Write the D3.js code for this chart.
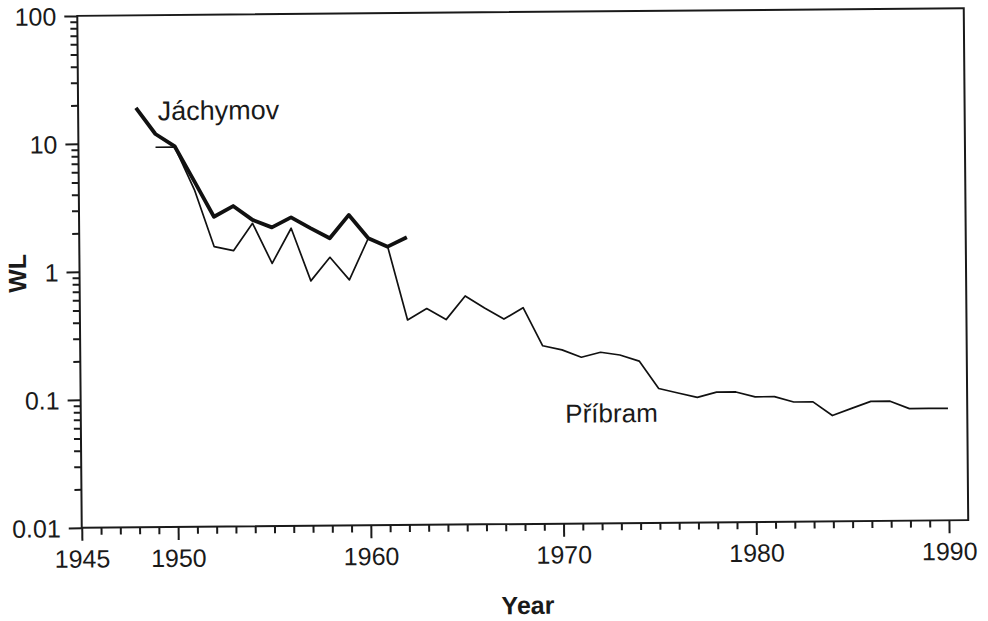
<!DOCTYPE html>
<html>
<head>
<meta charset="utf-8">
<script src="https://cdn.jsdelivr.net/npm/d3@7"></script>
<style>
  body { margin: 0; background: #fff; }
  svg text { font-family: "Liberation Sans", Arial, Helvetica, sans-serif; fill: #1a1a1a; }
</style>
</head>
<body>
<div id="chart"></div>
<script>
// Jachymov mine (thick line)
var jachYears = [1948, 1949, 1950, 1951, 1952, 1953, 1954, 1955, 1956, 1957, 1958, 1959, 1960, 1961, 1962];
var jachWL    = [18.9, 11.8, 9.4, 5.0, 2.64, 3.19, 2.48, 2.16, 2.58, 2.12, 1.76, 2.67, 1.75, 1.50, 1.77];

// Pribram mine (thin line)
var pribYears = [1949, 1950, 1951, 1952, 1953, 1954, 1955, 1956, 1957, 1958, 1959, 1960,
                 1961, 1962, 1963, 1964, 1965, 1966, 1967, 1968, 1969, 1970, 1971, 1972,
                 1973, 1974, 1975, 1976, 1977, 1978, 1979, 1980, 1981, 1982, 1983, 1984,
                 1985, 1986, 1987, 1988, 1989, 1990];
var pribWL    = [9.3, 9.3, 4.3, 1.54, 1.43, 2.33, 1.13, 2.12, 0.82, 1.25, 0.83, 1.75,
                 1.50, 0.40, 0.49, 0.40, 0.61, 0.49, 0.40, 0.49, 0.246, 0.228, 0.199, 0.217,
                 0.206, 0.184, 0.112, 0.103, 0.095, 0.104, 0.104, 0.095, 0.095, 0.086, 0.086, 0.067,
                 0.076, 0.086, 0.086, 0.075, 0.075, 0.075];

var yMajor  = [0.01, 0.1, 1, 10, 100];
var yLabels = ["0.01", "0.1", "1", "10", "100"];
var xMajor  = [1945, 1950, 1960, 1970, 1980, 1990];

var width = 988, height = 621;
var plotLeft = 79.5, plotRight = 966, plotTop = 12, plotBottom = 524;

var svg = d3.select("#chart").append("svg")
  .attr("width", width)
  .attr("height", height);

svg.append("rect")
  .attr("width", width)
  .attr("height", height)
  .attr("fill", "#fff");

// the scanned figure sits slightly tilted
var g = svg.append("g")
  .attr("transform", "rotate(-0.5 522.6 268)");

var x = d3.scaleLinear().domain([1945, 1991]).range([plotLeft, plotRight]);
var y = d3.scaleLog().domain([0.01, 100]).range([plotBottom, plotTop]);

// minor ticks
var yMinor = y.ticks().filter(function(d){ return yMajor.indexOf(d) < 0; });
var xMinor = d3.range(1946, 1990).filter(function(d){ return xMajor.indexOf(d) < 0; });

g.append("g")
  .attr("transform", "translate(" + plotLeft + ",0)")
  .call(d3.axisLeft(y).tickValues(yMinor).tickSize(7).tickFormat(""))
  .call(function(a){ a.select(".domain").remove(); });

g.append("g")
  .attr("transform", "translate(" + plotLeft + ",0)")
  .call(d3.axisLeft(y).tickValues(yMajor).tickSize(13).tickPadding(8)
    .tickFormat(function(d, i){ return yLabels[i]; }))
  .call(function(a){
    a.select(".domain").remove();
    a.selectAll("text").attr("font-size", 25).attr("dy", "0.35em");
  });

g.append("g")
  .attr("transform", "translate(0," + plotBottom + ")")
  .call(d3.axisBottom(x).tickValues(xMinor).tickSize(7).tickFormat(""))
  .call(function(a){ a.select(".domain").remove(); });

g.append("g")
  .attr("transform", "translate(0," + plotBottom + ")")
  .call(d3.axisBottom(x).tickValues(xMajor).tickSize(13).tickPadding(9).tickFormat(d3.format("d")))
  .call(function(a){
    a.select(".domain").remove();
    a.selectAll("text").attr("font-size", 25);
  });

g.selectAll(".tick line")
  .attr("stroke", "#1a1a1a")
  .attr("stroke-width", 2);

// frame
g.append("rect")
  .attr("x", plotLeft)
  .attr("y", plotTop)
  .attr("width", plotRight - plotLeft)
  .attr("height", plotBottom - plotTop)
  .attr("fill", "none")
  .attr("stroke", "#1a1a1a")
  .attr("stroke-width", 2);

var line = d3.line()
  .x(function(d){ return x(d[0]); })
  .y(function(d){ return y(d[1]); });

g.append("path")
  .datum(d3.zip(pribYears, pribWL))
  .attr("d", line)
  .attr("fill", "none")
  .attr("stroke", "#111")
  .attr("stroke-width", 1.7)
  .attr("stroke-linejoin", "round");

g.append("path")
  .datum(d3.zip(jachYears, jachWL))
  .attr("d", line)
  .attr("fill", "none")
  .attr("stroke", "#111")
  .attr("stroke-width", 3.8)
  .attr("stroke-linejoin", "round");

// series labels
g.append("text")
  .attr("x", 159)
  .attr("y", 117)
  .attr("font-size", 27)
  .text("Jáchymov");

g.append("text")
  .attr("x", 564)
  .attr("y", 423)
  .attr("font-size", 26)
  .text("Příbram");

// axis titles
g.append("text")
  .attr("x", 525)
  .attr("y", 614)
  .attr("text-anchor", "middle")
  .attr("font-size", 25)
  .attr("font-weight", "bold")
  .text("Year");

g.append("text")
  .attr("transform", "translate(26,269) rotate(-90)")
  .attr("text-anchor", "middle")
  .attr("font-size", 25)
  .attr("font-weight", "bold")
  .text("WL");
</script>
</body>
</html>
